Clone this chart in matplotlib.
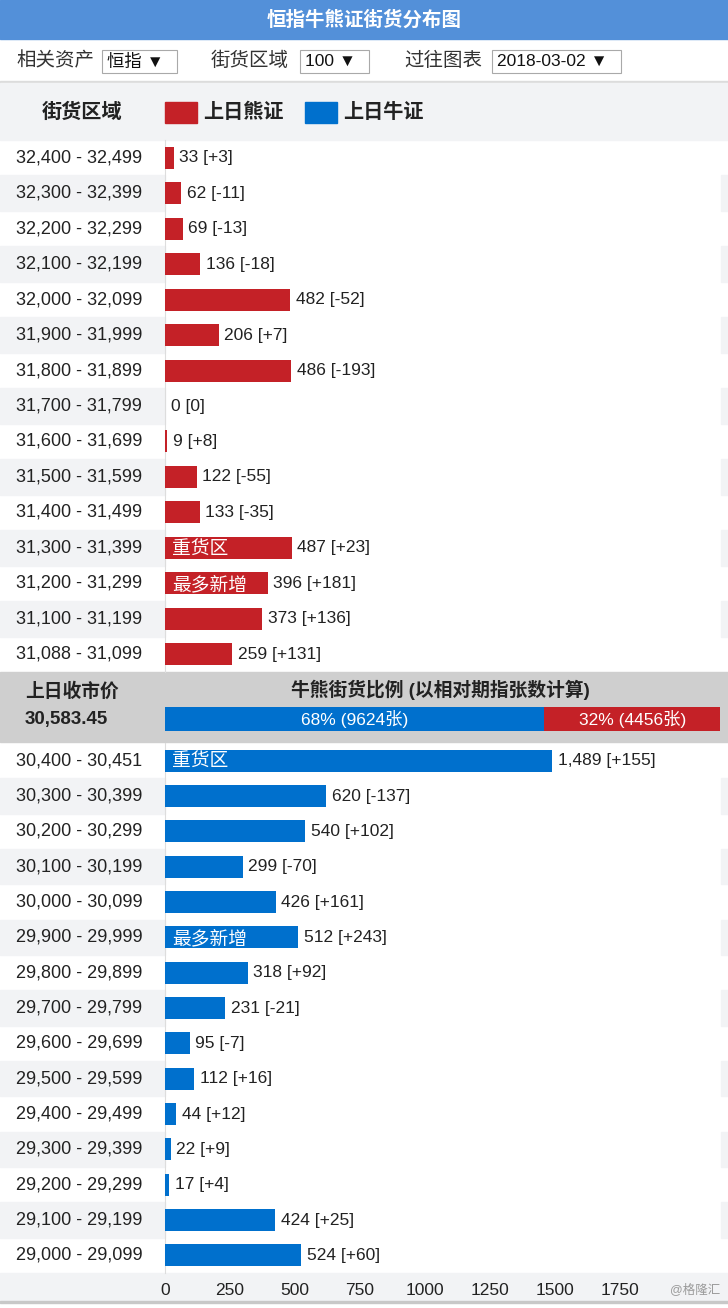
import matplotlib.pyplot as plt
from matplotlib.patches import Rectangle
from matplotlib.transforms import blended_transform_factory

plt.rcParams['font.family'] = ['Liberation Sans', 'Noto Sans CJK SC', 'DejaVu Sans']

# --- data ---
bear_ranges = ['32,400 - 32,499', '32,300 - 32,399', '32,200 - 32,299', '32,100 - 32,199',
               '32,000 - 32,099', '31,900 - 31,999', '31,800 - 31,899', '31,700 - 31,799',
               '31,600 - 31,699', '31,500 - 31,599', '31,400 - 31,499', '31,300 - 31,399',
               '31,200 - 31,299', '31,100 - 31,199', '31,088 - 31,099']
bear_values = [33, 62, 69, 136, 482, 206, 486, 0, 9, 122, 133, 487, 396, 373, 259]
bear_change = [3, -11, -13, -18, -52, 7, -193, 0, 8, -55, -35, 23, 181, 136, 131]
bear_tags = {11: '重货区', 12: '最多新增'}

bull_ranges = ['30,400 - 30,451', '30,300 - 30,399', '30,200 - 30,299', '30,100 - 30,199',
               '30,000 - 30,099', '29,900 - 29,999', '29,800 - 29,899', '29,700 - 29,799',
               '29,600 - 29,699', '29,500 - 29,599', '29,400 - 29,499', '29,300 - 29,399',
               '29,200 - 29,299', '29,100 - 29,199', '29,000 - 29,099']
bull_values = [1489, 620, 540, 299, 426, 512, 318, 231, 95, 112, 44, 22, 17, 424, 524]
bull_change = [155, -137, 102, -70, 161, 243, 92, -21, -7, 16, 12, 9, 4, 25, 60]
bull_tags = {0: '重货区', 5: '最多新增'}

close_price = '30,583.45'
bull_total = 9624
bear_total = 4456
x_ticks = [0, 250, 500, 750, 1000, 1250, 1500, 1750]

RED = '#c42127'
BLUE = '#0070cd'
LIGHT = '#f2f3f5'
W, H = 728, 1308

fig = plt.figure(figsize=(W / 100, H / 100), dpi=100)


def box(x0, y0, x1, y1, **kw):
    # background blocks sit below the axes
    fig.patches.append(Rectangle((x0 / W, 1 - y1 / H), (x1 - x0) / W, (y1 - y0) / H,
                                 transform=fig.transFigure, zorder=-5, **kw))


def txt(x, y, s, **kw):
    fig.text(x / W, 1 - y / H, s, **kw)


# header
box(0, 0, W, 39, color='#5390d9')
txt(W / 2, 20, '恒指牛熊证街货分布图', color='white', fontsize=14, fontweight='bold',
    ha='center', va='center')

# controls row
ctrl = [(16, '相关资产', 102, 177, '恒指 ▼'),
        (211, '街货区域', 300, 369, '100 ▼'),
        (404, '过往图表', 492, 621, '2018-03-02 ▼')]
for lx, lab, b0, b1, val in ctrl:
    txt(lx, 61, lab, fontsize=14, color='#333333', va='center')
    box(b0, 50, b1, 73, facecolor='white', edgecolor='#a9a9a9', lw=0.8)
    txt(b0 + 5, 61.5, val, fontsize=12.5, color='#111111', va='center')
box(0, 81, W, 83, color='#dcdcdc')

# legend row
box(0, 83, W, 140, color=LIGHT)
txt(42, 112, '街货区域', fontsize=14.5, fontweight='bold', color='#222222', va='center')
box(165, 102, 197, 123, color=RED)
txt(203, 112, '上日熊证', fontsize=14.5, fontweight='bold', color='#222222', va='center')
box(305, 102, 337, 123, color=BLUE)
txt(343, 112, '上日牛证', fontsize=14.5, fontweight='bold', color='#222222', va='center')


def panel(top, bottom, ranges, values, change, tags, color):
    ax = fig.add_axes([165 / W, 1 - bottom / H, (720 - 165) / W, (bottom - top) / H])
    ax.patch.set_alpha(0)
    n = len(values)
    ax.barh(range(n), values, height=0.62, color=color, zorder=3)
    ax.set_xlim(0, 2135)
    ax.set_ylim(n - 0.5, -0.5)
    ax.set_yticks([])
    for s in ['top', 'right', 'bottom']:
        ax.spines[s].set_visible(False)
    ax.spines['left'].set_color('#dddddd')
    trans = blended_transform_factory(fig.transFigure, ax.transData)
    for i in range(n):
        if i % 2 == 1:
            ax.add_patch(Rectangle((0, i - 0.5), 165 / W, 1, transform=trans,
                                   color=LIGHT, clip_on=False, zorder=0))
            ax.add_patch(Rectangle((721 / W, i - 0.5), 7 / W, 1, transform=trans,
                                   color=LIGHT, clip_on=False, zorder=0))
        ax.text(16 / W, i, ranges[i], transform=trans, fontsize=13, color='#222222',
                va='center', ha='left')
        d = change[i]
        ds = f'{d:+d}' if d != 0 else '0'
        ax.annotate(f'{values[i]:,} [{ds}]', xy=(values[i], i), xytext=(4, 0),
                    textcoords='offset points', fontsize=12.5, color='#222222',
                    va='center', ha='left')
        if i in tags:
            ax.annotate(tags[i], xy=(0, i), xytext=(5, 0), textcoords='offset points',
                        fontsize=13.5, color='white', va='center_baseline', ha='left',
                        zorder=4)
    return ax


ax_bear = panel(140, 672, bear_ranges, bear_values, bear_change, bear_tags, RED)
ax_bear.set_xticks([])

# middle band
box(0, 672, W, 742, color='#cfcfcf')
txt(25, 692, '上日收市价', fontsize=13.5, fontweight='bold', color='#222222', va='center')
txt(25, 719, close_price, fontsize=13.5, fontweight='bold', color='#222222', va='center')
txt(440, 690, '牛熊街货比例 (以相对期指张数计算)', fontsize=13.5, fontweight='bold',
    color='#222222', va='center', ha='center')
total = bull_total + bear_total
ax_ratio = fig.add_axes([165 / W, 1 - 731 / H, (720 - 165) / W, 24 / H])
ax_ratio.barh(0, bull_total, height=1, color=BLUE)
ax_ratio.barh(0, bear_total, left=bull_total, height=1, color=RED)
ax_ratio.set_xlim(0, total)
ax_ratio.set_ylim(-0.5, 0.5)
ax_ratio.axis('off')
ax_ratio.text(bull_total / 2, 0, f'{round(100 * bull_total / total)}% ({bull_total}张)',
              color='white', fontsize=12.5, ha='center', va='center')
ax_ratio.text(bull_total + bear_total / 2, 0, f'{round(100 * bear_total / total)}% ({bear_total}张)',
              color='white', fontsize=12.5, ha='center', va='center')

ax_bull = panel(743, 1273, bull_ranges, bull_values, bull_change, bull_tags, BLUE)

# axis strip
box(0, 1273, W, 1301, color=LIGHT)
box(0, 1301, W, 1303, color='#c8c8c8')
ax_bull.set_xticks(x_ticks)
ax_bull.tick_params(axis='x', length=0, pad=7, labelsize=12.5, labelcolor='#222222')
txt(670, 1290, '@格隆汇', fontsize=9, color='#9a9a9a', va='center')

fig.savefig('out.png', dpi=100)
